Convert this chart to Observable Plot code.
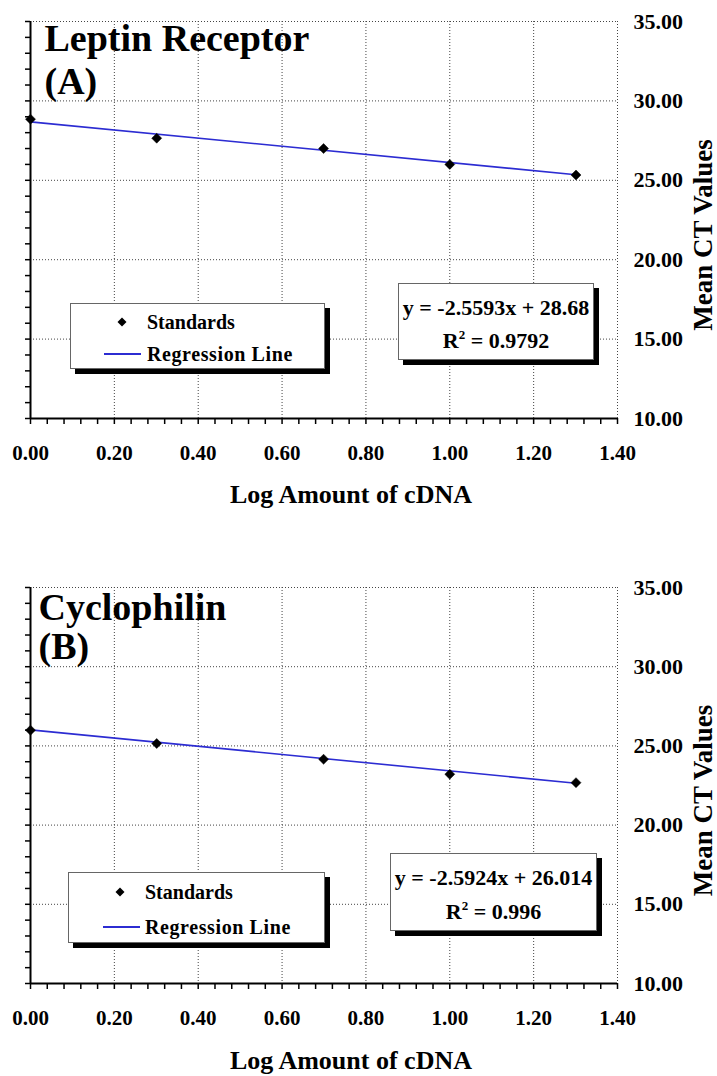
<!DOCTYPE html>
<html>
<head>
<meta charset="utf-8">
<script src="https://cdn.jsdelivr.net/npm/d3@7"></script>
<script src="https://cdn.jsdelivr.net/npm/@observablehq/plot@0.6"></script>
<style>
  body { margin: 0; background: #fff; }
  #wrap { position: relative; width: 717px; height: 1076px; overflow: hidden;
          font-family: "Liberation Serif", "Times New Roman", serif; font-weight: bold; color: #000; }
  .panel { position: absolute; left: 0; }
  .box { position: absolute; background: #fff; border: 1px solid #666; box-shadow: 5px 5px 0 #000; box-sizing: border-box; }
  .row { position: absolute; white-space: nowrap; line-height: 22px; height: 22px; }
  .eq { position: absolute; left: 0; right: 0; text-align: center; white-space: nowrap; font-size: 22px; line-height: 22px; }
  .eq sup { font-size: 13px; vertical-align: 9px; line-height: 0; }
</style>
</head>
<body>
<div id="wrap"></div>
<script>
// ---- data ----
const logAmount = [0, 0.301, 0.699, 1.0, 1.301];
const ctLeptin = [28.85, 27.65, 27.0, 26.0, 25.33];
const ctCyclophilin = [25.99, 25.15, 24.16, 23.21, 22.68];
const panelTitles = ["Leptin Receptor\n(A)", "Cyclophilin\n(B)"];
const slopes = [-2.5593, -2.5924];
const intercepts = [28.68, 26.014];
const equationTexts = ["y = -2.5593x + 28.68", "y = -2.5924x + 26.014"];
const rSquaredTexts = ["0.9792", "0.996"];
const xTickValues = [0, 0.2, 0.4, 0.6, 0.8, 1.0, 1.2, 1.4];
const yTickValues = [10, 15, 20, 25, 30, 35];
const xAxisLabel = "Log Amount of cDNA";
const yAxisLabel = "Mean CT Values";
const legendLabels = ["Standards", "Regression Line"];

const seriesValues = [ctLeptin, ctCyclophilin];
const xMinor = d3.range(0, 36).map(i => +(i * 0.04).toFixed(2));
const yMinor = d3.range(10, 36);
const fmt = d3.format(".2f");
const FONT = '"Liberation Serif", "Times New Roman", serif';
const BLUE = "#2c2cd2";
const GRID = "#444";

const layouts = [
  { top: 0, height: 566, titleDx: 14, titleDy: -1.5, titleLH: 43 / 38, xLabelDy: 76,
    legend: { left: 70, top: 303, w: 255, h: 66, r1: 18, r2: 50, dx: 51, lx1: 33, lx2: 70, tx: 76 },
    eq: { left: 398, top: 283, w: 196, h: 77, c1: 24, c2: 57 } },
  { top: 566, height: 510, titleDx: 8, titleDy: 3.6, titleLH: 40 / 38, xLabelDy: 77,
    legend: { left: 68, top: 872, w: 257, h: 71, r1: 19, r2: 54, dx: 51, lx1: 34, lx2: 71, tx: 76 },
    eq: { left: 390, top: 853, w: 207, h: 78, c1: 24, c2: 58 } }
];

const wrap = document.getElementById("wrap");

layouts.forEach((L, i) => {
  const pts = logAmount.map((x, j) => ({ x, y: seriesValues[i][j] }));
  const xs = d3.extent(logAmount);
  const reg = xs.map(x => ({ x, y: slopes[i] * x + intercepts[i] }));
  const plotBottom = 417 + (i === 0 ? 1 : 0);

  const chart = Plot.plot({
    width: 717,
    height: L.height,
    marginTop: 21,
    marginLeft: 30,
    marginRight: 100,
    marginBottom: L.height - plotBottom,
    x: { domain: [0, 1.4] },
    y: { domain: [10, 35] },
    style: { fontFamily: FONT, fontWeight: "bold", fontSize: "20px", background: "transparent", color: "black", overflow: "visible" },
    marks: [
      Plot.gridX(xTickValues.slice(1), { stroke: GRID, strokeOpacity: 1, strokeWidth: 1, strokeDasharray: "1,2" }),
      Plot.gridY(yTickValues.slice(1), { stroke: GRID, strokeOpacity: 1, strokeWidth: 1, strokeDasharray: "1,2" }),
      Plot.axisY({ anchor: "left", ticks: yMinor, tickSize: 5, tickFormat: () => "", label: null, strokeWidth: 1.5 }),
      Plot.axisX({ anchor: "bottom", ticks: xMinor, tickSize: 6, tickFormat: () => "", label: null, strokeWidth: 1.5 }),
      Plot.ruleX([0], { stroke: "black", strokeWidth: 2 }),
      Plot.ruleY([10], { stroke: "black", strokeWidth: 2 }),
      Plot.axisX({ anchor: "bottom", ticks: xTickValues, tickSize: 0, tickPadding: 27, tickFormat: fmt, label: null, fontSize: 21 }),
      Plot.axisY({ anchor: "right", ticks: yTickValues, tickSize: 0, tickPadding: 16, tickFormat: fmt, label: null, fontSize: 22 }),
      Plot.line(reg, { x: "x", y: "y", stroke: BLUE, strokeWidth: 1.6 }),
      Plot.dot(pts, { x: "x", y: "y", symbol: "diamond2", r: 4.5, fill: "black", stroke: "black", strokeWidth: 0.5 }),
      Plot.text([panelTitles[i]], { text: d => d, frameAnchor: "top-left", textAnchor: "start", lineAnchor: "top",
        dx: L.titleDx, dy: L.titleDy, fontSize: 38, fontWeight: "bold", lineHeight: L.titleLH }),
      Plot.text([xAxisLabel], { text: d => d, frameAnchor: "bottom", textAnchor: "middle", lineAnchor: "middle", dx: 27, dy: L.xLabelDy, fontSize: 26, fontWeight: "bold" }),
      Plot.text([yAxisLabel], { text: d => d, frameAnchor: "right", textAnchor: "middle", rotate: -90, lineAnchor: "middle", dx: 86, dy: 15, fontSize: 27, fontWeight: "bold" })
    ]
  });
  const holder = document.createElement("div");
  holder.className = "panel";
  holder.style.top = L.top + "px";
  holder.appendChild(chart);
  wrap.appendChild(holder);

  // legend box
  const lg = L.legend;
  const legend = document.createElement("div");
  legend.className = "box";
  Object.assign(legend.style, { left: lg.left + "px", top: lg.top + "px", width: lg.w + "px", height: lg.h + "px" });
  legend.innerHTML = `
    <svg style="position:absolute;left:${lg.dx - 5}px;top:${lg.r1 - 5}px" width="10" height="10"><polygon points="5,0.5 9.5,5 5,9.5 0.5,5" fill="#000"/></svg>
    <div class="row" style="left:${lg.tx}px;top:${lg.r1 - 11}px;font-size:20px">${legendLabels[0]}</div>
    <div style="position:absolute;left:${lg.lx1}px;width:${lg.lx2 - lg.lx1}px;top:${lg.r2 - 1}px;height:2px;background:${BLUE}"></div>
    <div class="row" style="left:${lg.tx}px;top:${lg.r2 - 11}px;font-size:20px;letter-spacing:0.6px">${legendLabels[1]}</div>`;
  wrap.appendChild(legend);

  // equation box
  const e = L.eq;
  const eq = document.createElement("div");
  eq.className = "box";
  Object.assign(eq.style, { left: e.left + "px", top: e.top + "px", width: e.w + "px", height: e.h + "px" });
  eq.innerHTML = `
    <div class="eq" style="top:${e.c1 - 11}px">${equationTexts[i]}</div>
    <div class="eq" style="top:${e.c2 - 11}px">R<sup>2</sup> = ${rSquaredTexts[i]}</div>`;
  wrap.appendChild(eq);
});
</script>
</body>
</html>
